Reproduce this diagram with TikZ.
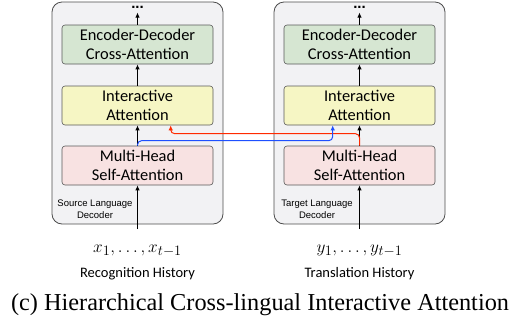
\documentclass[tikz,border=0pt]{standalone}
\usepackage{fontspec}
\setmainfont{Liberation Serif}
\newfontfamily\boxfont{Carlito}
\newfontfamily\labfont{Liberation Sans}
\usetikzlibrary{arrows.meta,calc}
\definecolor{decfill}{HTML}{F2F2F4}
\definecolor{encfill}{HTML}{D6E6D2}
\definecolor{intfill}{HTML}{F6F6C4}
\definecolor{selffill}{HTML}{F8E2E2}
\definecolor{redflow}{HTML}{FF2A00}
\definecolor{blueflow}{HTML}{1E50FF}
\begin{document}
\begin{tikzpicture}[x=1pt,y=-1pt,
  decoder/.style={draw=black!70, fill=decfill, rounded corners=10pt, line width=0.8pt,
    minimum width=171pt, minimum height=222pt, inner sep=0pt},
  block/.style={draw=black!65, rounded corners=3pt, line width=0.6pt,
    minimum width=151pt, minimum height=39pt, inner sep=0pt, align=center,
    font=\boxfont\fontsize{16.4}{19}\selectfont},
  enc/.style={block, fill=encfill},
  inter/.style={block, fill=intfill},
  selfatt/.style={block, fill=selffill},
  flow/.style={-{Latex[length=5pt,width=4.5pt]}, line width=1.1pt},
  redline/.style={-{Latex[length=5pt,width=4.5pt]}, line width=1pt, draw=redflow, rounded corners=4pt},
  blueline/.style={-{Latex[length=5pt,width=4.5pt]}, line width=1pt, draw=blueflow, rounded corners=4pt},
  declabel/.style={align=center, font=\labfont\fontsize{9.5}{12}\selectfont, inner sep=0pt},
  dots/.style={font=\labfont\bfseries\fontsize{15}{15}\selectfont, inner sep=0pt, anchor=base},
  seq/.style={font=\fontsize{19}{22}\selectfont, inner sep=0pt},
  hist/.style={font=\boxfont\fontsize{14.5}{16}\selectfont, inner sep=0pt}]
\useasboundingbox (0,0) rectangle (526,325);

% source language decoder
\node[decoder] (ldec) at (137.5,113) {};
\node[enc] (lenc) at (137.5,44.5) {Encoder-Decoder\\Cross-Attention};
\node[inter] (lint) at (137.5,105.5) {Interactive\\Attention};
\node[selfatt] (lself) at (137.5,165.5) {Multi-Head\\Self-Attention};
\node[dots] (ldots) at (137.5,8.5) {...};
\node[declabel] at (95,209) {Source Language\\Decoder};

% target language decoder
\node[decoder] (rdec) at (359.5,113) {};
\node[enc] (renc) at (359.5,44.5) {Encoder-Decoder\\Cross-Attention};
\node[inter] (rint) at (359.5,105.5) {Interactive\\Attention};
\node[selfatt] (rself) at (359.5,165.5) {Multi-Head\\Self-Attention};
\node[dots] (rdots) at (359.5,8.5) {...};
\node[declabel] at (317,209) {Target Language\\Decoder};

% inputs
\coordinate (lin) at (137.5,229);
\coordinate (rin) at (359.5,229);
\node[seq] (lseq) at (137.5,251) {$x_1,\ldots,x_{t-1}$};
\node[seq] (rseq) at (359.5,251) {$y_1,\ldots,y_{t-1}$};
\node[hist] at (137.5,273.5) {Recognition History};
\node[hist] at (359.5,273.5) {Translation History};

% vertical flow
\foreach \s in {l,r}{
  \draw[flow] (\s in) -- (\s self.south);
  \draw[flow] (\s self.north) -- (\s int.south);
  \draw[flow] (\s int.north) -- (\s enc.south);
  \draw[flow] (\s enc.north) -- ($(\s dots.base)+(0,4)$);
}

% cross-lingual interaction
\draw[redline] (rself.north) -- ($(rself.north)+(0,-12)$) -| ($(lint.south west)+(109,0)$);
\draw[blueline] (lself.north) -- ($(lself.north)+(0,-5)$) -| ($(rint.south west)+(49,0)$);

% caption
\node[font=\fontsize{24.3}{26}\selectfont, inner sep=0pt] at (260,305)
  {(c) Hierarchical Cross-lingual Interactive Attention};
\end{tikzpicture}
\end{document}
